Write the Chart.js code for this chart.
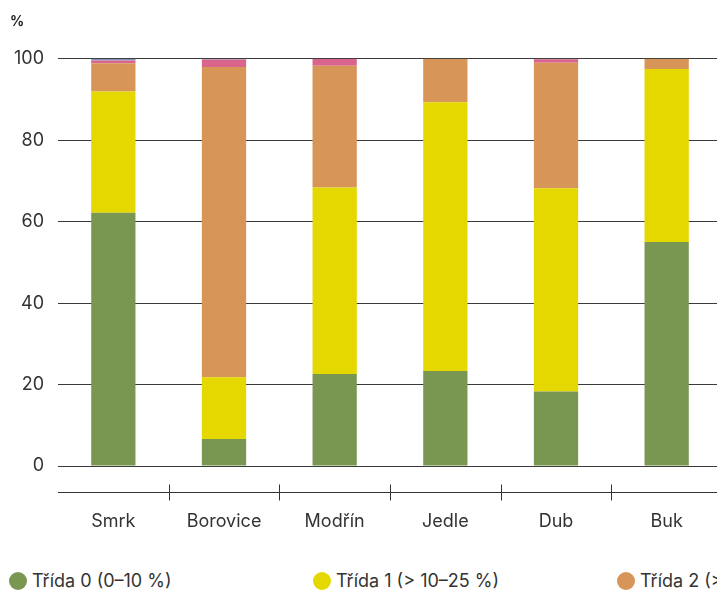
<!DOCTYPE html>
<html>
<head>
<meta charset="utf-8">
<script src="https://cdn.jsdelivr.net/npm/chart.js@4.4.1/dist/chart.umd.min.js"></script>
<style>
  html, body { margin: 0; padding: 0; overflow: hidden; background: #fff; }
  #wrap { position: relative; width: 717px; height: 590px; overflow: hidden; }
  #chart { position: absolute; left: 0; top: 0; }
  #legend { position: absolute; left: 9px; top: 570px; display: flex; white-space: nowrap;
            font-family: Inter, "Noto Sans", sans-serif; font-size: 18px; line-height: 22px; color: #333; }
  .item { width: 304px; display: flex; align-items: center; flex: none; }
  .dot { width: 18px; height: 18px; border-radius: 50%; margin-right: 5px; flex: none; }
</style>
</head>
<body>
<div id="wrap">
  <canvas id="chart" width="722" height="560"></canvas>
  <div id="legend"></div>
</div>
<script>
// Categories (tree species)
const categories = ["Smrk", "Borovice", "Modřín", "Jedle", "Dub", "Buk"];

// Defoliation classes, % share of trees
const trida0 = [62.2, 6.6, 22.6, 23.3, 18.3, 55.0];
const trida1 = [29.8, 15.2, 45.8, 66.0, 49.9, 42.5];
const trida2 = [6.9, 76.2, 29.9, 10.7, 30.8, 2.5];
const trida3 = [0.7, 1.8, 1.7, 0, 0.9, 0];
const trida4 = [0.4, 0.2, 0, 0, 0.1, 0];

const seriesLabels = ["Třída 0 (0–10 %)", "Třída 1 (> 10–25 %)", "Třída 2 (> 25–60 %)",
  "Třída 3 (> 60–99 %)", "Třída 4 (odumřelé)"];
const seriesColors = ["#7a9752", "#e5d800", "#d89558", "#d9658f", "#7f95b3"];

const yTicks = [0, 20, 40, 60, 80, 100];

const FONT = "Inter, 'Noto Sans', sans-serif";

// Axis line with separators between categories, below the plot
const xAxisLine = {
  id: "xAxisLine",
  afterDraw(chart) {
    const { ctx, chartArea, scales } = chart;
    const x = scales.x;
    const y = chartArea.bottom + 26.5;
    ctx.save();
    ctx.strokeStyle = "#333";
    ctx.lineWidth = 1;
    ctx.beginPath();
    ctx.moveTo(chartArea.left, y);
    ctx.lineTo(chart.width, y);
    for (let i = 1; i < categories.length; i++) {
      const xb = Math.round((x.getPixelForValue(i - 1) + x.getPixelForValue(i)) / 2) + 0.5;
      ctx.moveTo(xb, y - 8);
      ctx.lineTo(xb, y + 8);
    }
    ctx.stroke();
    ctx.restore();
  }
};

const data = [trida0, trida1, trida2, trida3, trida4];

const chart = new Chart(document.getElementById("chart"), {
  type: "bar",
  data: {
    labels: categories,
    datasets: data.map((values, i) => ({
      label: seriesLabels[i],
      data: values,
      backgroundColor: seriesColors[i],
      borderWidth: 0,
      barPercentage: 0.4,
      categoryPercentage: 1
    }))
  },
  options: {
    responsive: false,
    animation: false,
    layout: { padding: { left: 10, right: 0, top: 0, bottom: 0 } },
    plugins: {
      legend: { display: false },
      tooltip: { enabled: false },
      title: {
        display: true,
        text: "%",
        align: "start",
        color: "#222",
        font: { family: FONT, size: 14, weight: "bold" },
        padding: { top: 13, bottom: 29 }
      }
    },
    scales: {
      x: {
        stacked: true,
        grid: { display: false },
        border: { display: false },
        ticks: { color: "#333", padding: 37, font: { family: FONT, size: 18 } },
        afterFit(scale) { scale.height = 94; }
      },
      y: {
        stacked: true,
        min: 0,
        max: 100,
        afterBuildTicks(scale) { scale.ticks = yTicks.map(v => ({ value: v })); },
        grid: { color: "#3a3a3a", drawTicks: false },
        border: { display: false },
        ticks: { color: "#333", padding: 14, font: { family: FONT, size: 18 } },
        afterFit(scale) { scale.width = 48; }
      }
    }
  },
  plugins: [xAxisLine]
});

// HTML legend built from the datasets
const legend = document.getElementById("legend");
chart.data.datasets.forEach(ds => {
  const item = document.createElement("div");
  item.className = "item";
  const dot = document.createElement("span");
  dot.className = "dot";
  dot.style.background = ds.backgroundColor;
  const txt = document.createElement("span");
  txt.textContent = ds.label;
  item.appendChild(dot);
  item.appendChild(txt);
  legend.appendChild(item);
});
</script>
</body>
</html>
